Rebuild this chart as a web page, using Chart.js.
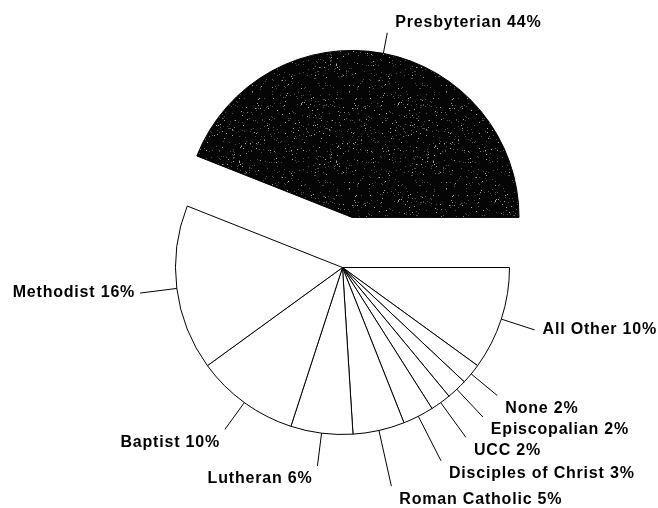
<!DOCTYPE html>
<html>
<head>
<meta charset="utf-8">
<script src="https://cdn.jsdelivr.net/npm/chart.js@4.4.0/dist/chart.umd.min.js"></script>
<style>
  html, body { margin: 0; padding: 0; background: #fff; }
</style>
</head>
<body>
<canvas id="myChart" width="658" height="508"></canvas>
<script>
// slices in clockwise order, starting at 3 o'clock
const categories = ['All Other', 'None', 'Episcopalian', 'UCC', 'Disciples of Christ',
  'Roman Catholic', 'Lutheran', 'Baptist', 'Methodist', 'Presbyterian'];
const percents = [10, 2, 2, 2, 3, 5, 6, 10, 16, 44];
const labelTexts = categories.map((c, i) => c + ' ' + percents[i] + '%');

// styling: leader line lengths and how far a slice is pulled out
const leaderLengths = [35, 34, 38, 43, 50, 57, 33, 33, 37, 21];
const explode = [0, 0, 0, 0, 0, 0, 0, 0, 0, 51];

// dark speckled fill, like the scanned original
function speckle() {
  const c = document.createElement('canvas');
  c.width = 97; c.height = 97;
  const g = c.getContext('2d');
  g.fillStyle = '#050505';
  g.fillRect(0, 0, 97, 97);
  let s = 7;
  for (let k = 0; k < 420; k++) {
    s = (Math.imul(s, 1103515245) + 12345) >>> 0;
    const x = s % 97;
    s = (Math.imul(s, 1103515245) + 12345) >>> 0;
    const y = s % 97;
    g.fillStyle = k % 4 ? 'rgba(255,255,255,0.3)' : 'rgba(255,255,255,0.65)';
    g.fillRect(x, y, 1, 1);
  }
  return g.createPattern(c, 'repeat');
}

const fills = categories.map((c, i) => explode[i] ? speckle() : '#ffffff');

const explodePlugin = {
  id: 'explode',
  afterDatasetsUpdate(chart) {
    const meta = chart.getDatasetMeta(0);
    meta.data.forEach((arc, i) => {
      const d = explode[i];
      if (!d) return;
      const mid = (arc.startAngle + arc.endAngle) / 2;
      arc.x += Math.cos(mid) * d;
      arc.y += Math.sin(mid) * d;
    });
  }
};

const leaderPlugin = {
  id: 'leaders',
  afterDatasetsDraw(chart) {
    const ctx = chart.ctx;
    const meta = chart.getDatasetMeta(0);
    ctx.save();
    ctx.strokeStyle = '#000';
    ctx.lineWidth = 1;
    ctx.fillStyle = '#000';
    ctx.font = 'bold 16px "Liberation Sans", Arial, sans-serif';
    ctx.letterSpacing = '0.8px';
    ctx.textBaseline = 'middle';
    meta.data.forEach((arc, i) => {
      const mid = (arc.startAngle + arc.endAngle) / 2;
      const cos = Math.cos(mid), sin = Math.sin(mid);
      const r = arc.outerRadius;
      const x1 = arc.x + cos * r, y1 = arc.y + sin * r;
      const x2 = arc.x + cos * (r + leaderLengths[i]);
      const y2 = arc.y + sin * (r + leaderLengths[i]);
      ctx.beginPath();
      ctx.moveTo(x1, y1);
      ctx.lineTo(x2, y2);
      ctx.stroke();
      let tx, ty;
      if (cos >= 0) { ctx.textAlign = 'left'; tx = x2 + 8; }
      else { ctx.textAlign = 'right'; tx = x2 - 5; }
      if (sin > 0.35) ty = y2 + 13;
      else if (sin < -0.35) ty = y2 - 10;
      else ty = y2;
      ctx.fillText(labelTexts[i], tx, ty);
    });
    ctx.restore();
  }
};

const myChart = new Chart(document.getElementById('myChart'), {
  type: 'pie',
  data: {
    labels: categories,
    datasets: [{
      data: percents,
      backgroundColor: fills,
      borderColor: '#000',
      borderWidth: 1,
      hoverOffset: 0,
      hoverBorderWidth: 1
    }]
  },
  options: {
    responsive: false,
    animation: false,
    events: [],
    rotation: 90,
    layout: { padding: { top: 100, bottom: 73, left: 175, right: 148 } },
    plugins: {
      legend: { display: false },
      tooltip: { enabled: false }
    }
  },
  plugins: [explodePlugin, leaderPlugin]
});
</script>
</body>
</html>
